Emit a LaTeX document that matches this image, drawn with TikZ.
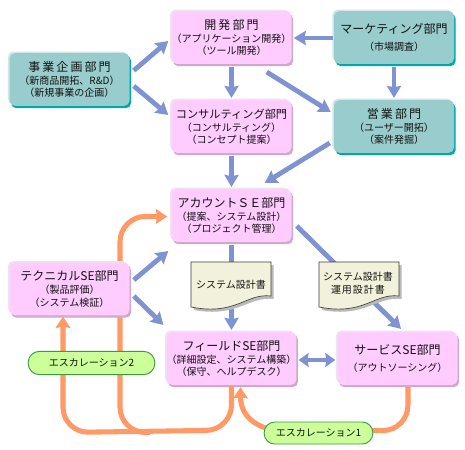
\documentclass[tikz,border=0pt]{standalone}
\usepackage{fontspec}
\setmainfont{Noto Sans CJK JP}
\newfontfamily\spaced[LetterSpace=17]{Noto Sans CJK JP}
\newfontfamily\spacedsub[LetterSpace=10]{Noto Sans CJK JP}
\usetikzlibrary{arrows.meta,calc}
\definecolor{pinkfill}{HTML}{FFCCFF}
\definecolor{pinklight}{HTML}{EDE4EE}
\definecolor{pinkdark}{HTML}{CFA8CC}
\definecolor{tealfill}{HTML}{99CCCC}
\definecolor{teallight}{HTML}{D2E6EA}
\definecolor{tealdark}{HTML}{00A8A8}
\definecolor{arrowblue}{HTML}{7F93D3}
\definecolor{arroworange}{HTML}{FF9966}
\definecolor{docfill}{HTML}{F2F2DC}
\definecolor{pillfill}{HTML}{CCFF99}
\definecolor{pilledge}{HTML}{3F9A3F}
\definecolor{textdark}{HTML}{111111}
\newcommand{\hd}[1]{{\fontsize{9}{11}\selectfont #1}}
\newcommand{\hdn}[1]{{\fontsize{8.4}{11}\selectfont #1}}
\newcommand{\hds}[1]{{\fontsize{9}{11}\spaced #1}}
\tikzset{
  x=0.75pt,y=-0.75pt,
  dept/.style={minimum width=90pt,minimum height=39.5pt,inner sep=0pt,rounded corners=4pt,align=center,
     text=textdark,font=\fontsize{7.5}{9.2}\selectfont,
     execute at begin node={\vspace*{3pt}}},
  pinkbox/.style={dept,fill=pinkfill,
     preaction={fill=pinklight,transform canvas={xshift=-1.2pt,yshift=1.2pt}},
     preaction={fill=pinkdark,transform canvas={xshift=1.2pt,yshift=-1.8pt}}},
  tealbox/.style={dept,fill=tealfill,
     preaction={fill=teallight,transform canvas={xshift=-1.2pt,yshift=1.2pt}},
     preaction={fill=tealdark,transform canvas={xshift=1.2pt,yshift=-1.8pt}}},
  arr/.style={draw=arrowblue,line width=3.6pt,-{Stealth[inset=1pt,length=9pt,width=10.5pt]}},
  arrboth/.style={draw=arrowblue,line width=3.6pt,{Stealth[inset=1pt,length=7.5pt,width=10.5pt]}-{Stealth[inset=1pt,length=7.5pt,width=10.5pt]}},
  oarr/.style={draw=arroworange,line width=3.8pt,rounded corners=19pt,line cap=butt},
  otip/.style={-{Stealth[inset=1pt,length=8.5pt,width=11pt]}},
  pill/.style={rounded corners=8.5pt,draw=pilledge,line width=0.7pt,fill=pillfill,inner sep=0pt,
     text=textdark,font=\fontsize{7.5}{9}\selectfont},
  doctext/.style={inner sep=0pt,align=center,text=textdark,font=\fontsize{7.5}{9.5}\selectfont},
  docbody/.style={fill=docfill,draw=black!50!gray,line width=0.5pt},
  docshadow/.style={fill=gray!55},
}
\newcommand{\docshape}[2]{%
  \fill[docshadow] (#1+3,#2+3) -- (#1+82.5,#2+3) -- (#1+82.5,#2+37) .. controls (#1+58,#2+34) and (#1+46,#2+56) .. (#1+3,#2+48) -- cycle;
  \draw[docbody] (#1,#2) -- (#1+80,#2) -- (#1+80,#2+34) .. controls (#1+55,#2+31) and (#1+45,#2+54) .. (#1,#2+45) -- cycle;
}
\begin{document}
\begin{tikzpicture}
\useasboundingbox (0,0) rectangle (465,450);
\fill[white] (0,0) rectangle (465,450);
\node[pinkbox] (dev) at (231.5,37.5) {\hds{開発部門}\\[0.6pt]（アプリケーション開発）\\（ツール開発）};
\node[pinkbox] (con) at (231.5,126.5) {\hdn{コンサルティング部門}\\[0.6pt]（コンサルティング）\\（コンセプト提案）};
\node[tealbox] (biz) at (69.5,79.5) {\hds{事業企画部門}\\[0.6pt]（新商品開拓、R\&D）\\（新規事業の企画）};
\node[tealbox] (mkt) at (394,37.5) {\hd{マーケティング部門}\\[3.5pt]（市場調査）};
\node[tealbox] (sal) at (394,126.5) {\hds{営業部門}\\[0.6pt]（ユーザー開拓）\\（案件発掘）};
\node[pinkbox] (acc) at (231.5,215.5) {\hd{アカウントＳＥ部門}\\[0.6pt]（提案、システム設計）\\（プロジェクト管理）};
\node[pinkbox] (fld) at (231.5,358.5) {\hd{フィールドSE部門}\\[0.6pt]（詳細設定、システム構築）\\（保守、ヘルプデスク）};
\node[pinkbox] (svc) at (397.5,358.5) {\hd{サービスSE部門}\\[3.5pt]（アウトソーシング）};

% orange lines
\draw[oarr,otip] (150,432.5) -- (120,432.5) -- (120,216.5) -- ($(acc.west)+(-4,1)$);
\node[pinkbox] (tec) at (69.5,289) {\hd{テクニカルSE部門}\\[0.6pt]（製品評価）\\（システム検証）};
\draw[oarr,otip] ($(fld.south)+(0,1)$) -- ($(fld.south)+(0,45)$) -- (63,432.5) -- ($(tec.south)+(-6.5,1)$);
\draw[oarr] (svc.south) ++(10.5,2) -- ++(0,43.5) -- ++(-60,0);
\draw[oarr,otip] (300,433) .. controls (262,433) and (240.5,420) .. ($(fld.south)+(9,2)$);

% blue arrows
\draw[arr] ($(biz.east)+(4,-9)$) -- ($(dev.west)+(-3,3.5)$);
\draw[arr] ($(biz.east)+(4,6.5)$) -- ($(con.west)+(-3,-11.5)$);
\draw[arr] ($(dev.south)+(0,2.5)$) -- ($(con.north)+(0,-2)$);
\draw[arr] ($(mkt.west)+(-1,0.5)$) -- ($(dev.east)+(2,0.5)$);
\draw[arr] ($(mkt.south)+(0,2.5)$) -- ($(sal.north)+(0,-2)$);
\draw[arr] ($(dev.east)+(-25,34.5)$) -- ($(sal.west)+(-3,-14.5)$);
\draw[arr] ($(sal.west)+(-4,16.5)$) -- ($(acc.east)+(-27,-32.5)$);
\draw[arr] ($(con.south)+(0,2.5)$) -- ($(acc.north)+(0,-2)$);
\draw[arr] ($(acc.south)+(0,3)$) -- ($(fld.north)+(0,-2)$);
\draw[arr] ($(acc.east)+(5,10.5)$) -- ($(svc.north)+(3.5,-3)$);
\draw[arr] ($(tec.east)+(4,-9)$) -- ($(acc.west)+(-3,35.5)$);
\draw[arr] ($(tec.east)+(4,7)$) -- ($(fld.west)+(-3,-33.5)$);
\draw[arrboth] ($(fld.east)+(2,1.5)$) -- ($(svc.west)+(-2,1.5)$);

% documents
\docshape{191}{262}
\docshape{319}{262}
\node[doctext] (d1t) at (231,285) {システム設計書};
\node[doctext] (d2t) at (358,283.5) {システム設計書\\{\spacedsub 運用設計書}};

% pills
\node[pill,minimum width=95pt,minimum height=17.5pt] (esc2) at (91.5,363) {エスカレーション2};
\node[pill,minimum width=81.5pt,minimum height=16.5pt,rounded corners=8pt] (esc1) at (318.5,433) {エスカレーション1};
\end{tikzpicture}
\end{document}
